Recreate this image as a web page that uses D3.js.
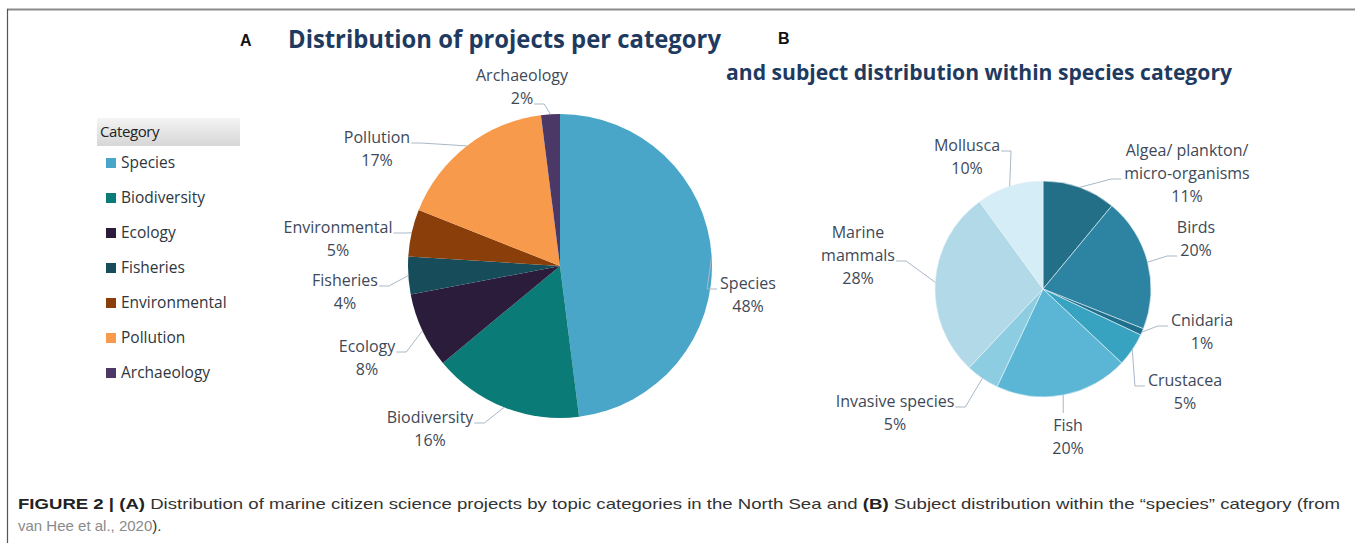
<!DOCTYPE html>
<html>
<head>
<meta charset="utf-8">
<script src="https://cdn.jsdelivr.net/npm/d3@7"></script>
<style>
  body { margin: 0; background: #fff; }
  svg { display: block; }
</style>
</head>
<body>
<div id="chart"></div>
<script>
// panel A: projects per category (percent)
var catA = ["Species", "Biodiversity", "Ecology", "Fisheries", "Environmental", "Pollution", "Archaeology"];
var valA = [48, 16, 8, 4, 5, 17, 2];
var colA = ["#4aa6c8", "#0b7b77", "#2c1c3b", "#174c5a", "#8a3e0a", "#f79a4c", "#4b3866"];

// panel B: subjects within species (percent)
var catB = ["Algea/ plankton/ micro-organisms", "Birds", "Cnidaria", "Crustacea", "Fish", "Invasive species", "Marine mammals", "Mollusca"];
var valB = [11, 20, 1, 5, 20, 5, 28, 10];
var colB = ["#236f87", "#2d84a2", "#1f6e8c", "#38a3c1", "#5ab6d4", "#8dcde2", "#b1d9e7", "#d5edf6"];

// label layout: offset from pie centre, which line the leader leaves from, side
var layA = [
  {dx: 188, dy: 17, line: 0, side: "left"},
  {dx: -130, dy: 151, line: 0, side: "right"},
  {dx: -193, dy: 80, line: 0, side: "right"},
  {dx: -215, dy: 14, line: 0, side: "right"},
  {dx: -222, dy: -39, line: 0, side: "right"},
  {dx: -183, dy: -129, line: 0, side: "right"},
  {dx: -38, dy: -191, line: 1, side: "right"}
];
var layB = [
  {dx: 144, dy: -139, line: 1, side: "left", lines: ["Algea/ plankton/", "micro-organisms"]},
  {dx: 153, dy: -62, line: 1, side: "left"},
  {dx: 159, dy: 31, line: 0, side: "left"},
  {dx: 142, dy: 91, line: 0, side: "left"},
  {dx: 25, dy: 136, line: 0, side: "top"},
  {dx: -148, dy: 112, line: 0, side: "right"},
  {dx: -185, dy: -57, line: 1, side: "right", lines: ["Marine", "mammals"]},
  {dx: -76, dy: -144, line: 0, side: "right"}
];

var W = 1355, H = 543;
var labelFont = "'Open Sans', 'Noto Sans', sans-serif";
var textCol = "#3e4958";
var leaderCol = "#a9b8c8";

var svg = d3.select("#chart").append("svg")
    .attr("width", W)
    .attr("height", H);

// frame
svg.append("line").attr("x1", 7).attr("x2", W).attr("y1", 9.5).attr("y2", 9.5)
    .attr("stroke", "#8a8a8a").attr("stroke-width", 2);
svg.append("line").attr("x1", 7.5).attr("x2", 7.5).attr("y1", 9).attr("y2", H)
    .attr("stroke", "#555").attr("stroke-width", 1.2);

// titles
svg.append("text").attr("x", 240).attr("y", 46)
    .style("font-family", "'Liberation Sans', Arial, sans-serif").style("font-weight", "bold")
    .style("font-size", "16px").attr("fill", "#111").text("A");
svg.append("text").attr("x", 288).attr("y", 48)
    .attr("textLength", 433).attr("lengthAdjust", "spacingAndGlyphs")
    .style("font-family", labelFont).style("font-weight", "bold")
    .style("font-size", "25px").attr("fill", "#1f3a5f").text("Distribution of projects per category");
svg.append("text").attr("x", 778).attr("y", 44)
    .style("font-family", "'Liberation Sans', Arial, sans-serif").style("font-weight", "bold")
    .style("font-size", "16px").attr("fill", "#111").text("B");
svg.append("text").attr("x", 726).attr("y", 80)
    .attr("textLength", 506).attr("lengthAdjust", "spacingAndGlyphs")
    .style("font-family", labelFont).style("font-weight", "bold")
    .style("font-size", "22px").attr("fill", "#1f3a5f").text("and subject distribution within species category");

// legend
var defs = svg.append("defs");
var grad = defs.append("linearGradient").attr("id", "legHead")
    .attr("x1", 0).attr("y1", 0).attr("x2", 0).attr("y2", 1);
grad.append("stop").attr("offset", "0%").attr("stop-color", "#f4f4f4");
grad.append("stop").attr("offset", "100%").attr("stop-color", "#d6d6d6");

var legend = svg.append("g").attr("transform", "translate(97,118)");
legend.append("rect").attr("width", 143).attr("height", 28).attr("fill", "url(#legHead)");
legend.append("text").attr("x", 3).attr("y", 14).attr("dy", "0.35em")
    .style("font-family", labelFont).style("font-size", "15px").attr("fill", "#222")
    .attr("letter-spacing", "-0.4").text("Category");

var legY = d3.scalePoint().domain(catA).range([45, 255]);
var item = legend.selectAll(".leg")
    .data(catA)
  .enter().append("g")
    .attr("class", "leg")
    .attr("transform", function(d) { return "translate(0," + legY(d) + ")"; });
item.append("rect").attr("x", 9).attr("y", -5).attr("width", 10).attr("height", 10)
    .attr("fill", function(d, i) { return colA[i]; });
item.append("text").attr("x", 24).attr("dy", "0.35em")
    .style("font-family", labelFont).style("font-size", "15.5px").attr("fill", "#2e3640")
    .text(function(d) { return d; });

// pie drawing
function drawPie(cx, cy, r, cats, vals, cols, lay, strokeCol) {
  var g = svg.append("g").attr("transform", "translate(" + cx + "," + cy + ")");
  var pie = d3.pie().sort(null).value(function(d) { return d; });
  var arcs = pie(vals);
  var arc = d3.arc().innerRadius(0).outerRadius(r);

  g.selectAll(".slice")
      .data(arcs)
    .enter().append("path")
      .attr("class", "slice")
      .attr("d", arc)
      .attr("fill", function(d, i) { return cols[i]; })
      .attr("stroke", strokeCol)
      .attr("stroke-width", strokeCol === "none" ? 0 : 0.6);

  var lineH = 23;
  arcs.forEach(function(a, i) {
    var L = lay[i];
    var lines = (L.lines || [cats[i]]).concat([vals[i] + "%"]);
    var lg = g.append("g");
    var widths = [];
    lines.forEach(function(t, k) {
      var tx = lg.append("text")
          .attr("x", L.dx).attr("y", L.dy + k * lineH).attr("dy", "0.35em")
          .attr("text-anchor", "middle")
          .style("font-family", labelFont).style("font-size", "16px")
          .attr("fill", textCol).text(t);
      widths.push(tx.node().getComputedTextLength());
    });

    var mid = (a.startAngle + a.endAngle) / 2;
    var px = Math.sin(mid) * r, py = -Math.cos(mid) * r;
    var pts;
    var w = widths[L.line];
    var ly = L.dy + L.line * lineH + 6;
    if (L.side === "right") {
      var sx = L.dx + w / 2 + 1;
      pts = [[sx, ly], [sx + 10, ly], [px, py]];
    } else if (L.side === "left") {
      var sx2 = L.dx - w / 2 - 3;
      pts = [[sx2, ly], [sx2 - 10, ly], [px, py]];
    } else {
      pts = [[px, L.dy - 12], [px, py]];
    }
    g.append("path")
        .attr("d", d3.line()(pts))
        .attr("fill", "none")
        .attr("stroke", leaderCol)
        .attr("stroke-width", 1);
  });
}

drawPie(560, 266, 152, catA, valA, colA, layA, "none");
drawPie(1043, 289, 108, catB, valB, colB, layB, "#e8f4f9");

// caption
var cap = svg.append("text").attr("x", 18).attr("y", 509)
    .attr("textLength", 1322).attr("lengthAdjust", "spacingAndGlyphs")
    .style("font-family", "'Liberation Sans', Arial, sans-serif").style("font-size", "15px")
    .attr("fill", "#333");
cap.append("tspan").style("font-weight", "bold").attr("fill", "#222").text("FIGURE 2 | (A)");
cap.append("tspan").text(" Distribution of marine citizen science projects by topic categories in the North Sea and ");
cap.append("tspan").style("font-weight", "bold").attr("fill", "#222").text("(B)");
cap.append("tspan").text(" Subject distribution within the \u201Cspecies\u201D category (from");

var cap2 = svg.append("text").attr("x", 18).attr("y", 531)
    .style("font-family", "'Liberation Sans', Arial, sans-serif").style("font-size", "15px");
cap2.append("tspan").attr("fill", "#8a8a8a").text("van Hee et al., 2020");
cap2.append("tspan").attr("fill", "#333").text(").");
</script>
</body>
</html>
